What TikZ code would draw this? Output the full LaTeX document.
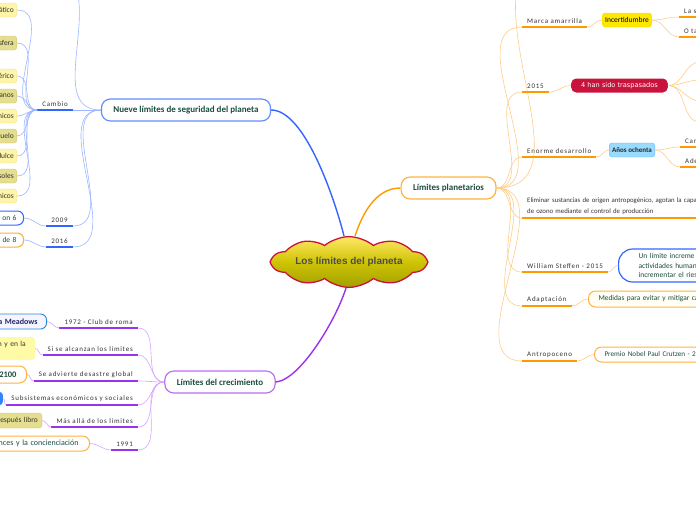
\documentclass[tikz,border=0pt]{standalone}
\usepackage{fontspec}
\setmainfont{Carlito}
\newfontfamily\espaciado[LetterSpace=11]{Carlito}
\newfontfamily\dejavu{DejaVu Sans}
\newfontfamily\arialfont{Liberation Sans}
\usetikzlibrary{shapes.symbols, positioning}

\definecolor{azul}{HTML}{3366FF}
\definecolor{azulsub}{HTML}{9DB5FF}
\definecolor{naranja}{HTML}{FF9900}
\definecolor{naranjasub}{HTML}{FFCC88}
\definecolor{morado}{HTML}{9933EE}
\definecolor{moradosub}{HTML}{D6A3FF}
\definecolor{verdeosc}{HTML}{1B4D3E}
\definecolor{amarclaro}{HTML}{FFF5A8}
\definecolor{amarborde}{HTML}{F3E58A}
\definecolor{oliva}{HTML}{E4DE8E}
\definecolor{olivaborde}{HTML}{CFC66E}
\definecolor{carmesi}{HTML}{C8143C}
\definecolor{gristexto}{HTML}{333333}

\tikzset{
  raiz/.style={cloud, cloud puffs=10, cloud puff arc=80, aspect=4.4, draw=carmesi, line width=1.3pt,
    top color=yellow!70!orange!60!white, bottom color=olive!75!yellow,
    minimum width=154pt, minimum height=34pt, inner sep=1pt,
    font=\arialfont\bfseries\fontsize{10}{12}\selectfont, text=black!70},
  tema/.style={draw, rounded corners=9pt, fill=white, line width=1.2pt,
    font=\bfseries\fontsize{9}{10}\selectfont, text=verdeosc,
    minimum height=22pt, inner xsep=12pt},
  etiq/.style={font=\espaciado\fontsize{7}{8}\selectfont, text=gristexto, inner xsep=5pt, inner ysep=3pt},
  hoja/.style={rounded corners=3pt, font=\fontsize{7.5}{8}\selectfont, text=gristexto,
    minimum height=14pt, inner xsep=3pt, inner ysep=2pt},
  hojaizq/.style={hoja, text width=60pt, align=right, anchor=east},
  hojader/.style={hoja, text width=130pt, align=left, anchor=west},
  azulul/.style={draw=azul, line width=1.3pt},
  naranjaul/.style={draw=naranja, line width=1.3pt},
  moradoul/.style={draw=morado, line width=1.3pt},
  azulc/.style={draw=azulsub, line width=0.6pt},
  naranjac/.style={draw=naranjasub, line width=0.6pt},
  moradoc/.style={draw=moradosub, line width=0.6pt}
}

\begin{document}
\begin{tikzpicture}[x=1pt, y=-1pt]
  \useasboundingbox (0,0) rectangle (696,520);
  \clip (0,0) rectangle (696,520);
  % Nodo central
  \node[raiz] (raiz) at (349,262) {Los límites del planeta};
  % Temas principales
  \node[tema, draw=azul!75] (nueve) at (186,110) {Nueve límites de seguridad del planeta};
  \node[tema, draw=naranja!75] (planet) at (448.5,188) {Límites planetarios};
  \node[tema, draw=morado!70] (crec) at (220,382) {Límites del crecimiento};
  % Ramas principales
  \draw[azul, line width=1.4pt] ([xshift=-5pt]raiz.north) .. controls (335,200) and (305,110) .. (nueve.east);
  \draw[naranja, line width=1.4pt] ([xshift=6pt]raiz.north) .. controls (362,215) and (375,188) .. (planet.west);
  \draw[morado, line width=1.4pt] ([xshift=-3pt]raiz.south) .. controls (336,320) and (300,380) .. (crec.east);

  % Rama azul
  \node[etiq, anchor=south east] (cambio) at (73,110) {Cambio};
  \node[etiq, anchor=south east] (a2009) at (73,226) {2009};
  \node[etiq, anchor=south east] (a2016) at (73,247) {2016};
  \coordinate (arriba1) at (78,-5);
  \foreach \n in {cambio, a2009, a2016}
    \draw[azulul] (\n.south west) -- (\n.south east);
  \draw[azulc] (nueve.west) -- (cambio.south east);
  \draw[azulc] (nueve.west) to[out=180, in=0] (a2009.south east);
  \draw[azulc] (nueve.west) to[out=180, in=0] (a2016.south east);
  \draw[azulc] (nueve.west) to[out=180, in=-80] (arriba1);
  % hojas de Cambio
  \node[hojaizq, fill=amarclaro, draw=amarborde] (h1) at (17,10) {ático};
  \node[hojaizq, fill=oliva, draw=olivaborde] (h2) at (17,43) {sfera};
  \node[hojaizq, fill=amarclaro, draw=amarborde] (h3) at (17,76) {érico};
  \node[hojaizq, fill=oliva, draw=olivaborde] (h4) at (17,96) {anos};
  \node[hojaizq, fill=amarclaro, draw=amarborde] (h5) at (17,116) {nicos};
  \node[hojaizq, fill=oliva, draw=olivaborde] (h6) at (17,136) {uelo};
  \node[hojaizq, fill=amarclaro, draw=amarborde] (h7) at (17,156) {dulce};
  \node[hojaizq, fill=oliva, draw=olivaborde] (h8) at (17,176) {soles};
  \node[hojaizq, fill=amarclaro, draw=amarborde] (h9) at (17,196) {nicos};
  \foreach \i in {1,...,9}
    \draw[azulc] (cambio.south west) to[out=180, in=0] (h\i.east);
  \node[hojaizq, fill=white, draw=azul, line width=1pt, rounded corners=6pt, inner xsep=7pt,
    font=\fontsize{7.5}{8}\selectfont, text=verdeosc] (h2009) at (24,218) {on 6};
  \node[hojaizq, fill=white, draw=naranja!80, line width=1pt, rounded corners=6pt, inner xsep=7pt,
    font=\fontsize{7.5}{8}\selectfont, text=verdeosc] (h2016) at (24,240) {de 8};
  \draw[azulc] (a2009.south west) to[out=180, in=0] (h2009.east);
  \draw[azulc] (a2016.south west) to[out=180, in=0] (h2016.east);

  % Rama morada
  \node[etiq, anchor=south east] (m1) at (138,328) {1972 - Club de roma};
  \node[etiq, anchor=south east] (m2) at (138,355) {Si se alcanzan los límites};
  \node[etiq, anchor=south east] (m3) at (138,381) {Se advierte desastre global};
  \node[etiq, anchor=south east] (m4) at (138,405) {Subsistemas económicos y sociales};
  \node[etiq, anchor=south east] (m5) at (138,427) {Más allá de los límites};
  \node[etiq, anchor=south east] (m6) at (138,450) {1991};
  \foreach \i in {1,...,6} {
    \draw[moradoul] (m\i.south west) -- (m\i.south east);
    \draw[moradoc] (crec.west) to[out=180, in=0] (m\i.south east);
  }
  \node[hojaizq, fill=blue!4, draw=blue!45!cyan!70!gray, line width=0.9pt, rounded corners=6pt,
    minimum height=15pt, inner xsep=9pt, font=\bfseries\fontsize{8}{8}\selectfont, text=blue!30!black!85] (meadows) at (47,321.5) {a Meadows};
  \node[hojaizq, fill=yellow!35, minimum height=23pt, inner xsep=9pt,
    font=\fontsize{7.5}{9.5}\selectfont] (nyen) at (35,348.5) {n y en la\\\mbox{}};
  \node[hojaizq, fill=white, draw=naranja!75, line width=1pt, rounded corners=7pt, minimum height=17pt,
    inner xsep=10pt, font=\bfseries\fontsize{8.5}{9}\selectfont, text=verdeosc] (a2100) at (27,374.5) {2100};
  \node[hojaizq, fill=blue!60!cyan!80, minimum height=13pt] (azulcaja) at (3,398.5) {};
  \node[hojaizq, fill=oliva, draw=olivaborde, minimum height=15pt, inner xsep=4pt,
    font=\fontsize{7.5}{8}\selectfont] (libro) at (42,420.5) {después libro};
  \node[hojaizq, text width=120pt, fill=white, draw=naranja!75, line width=1pt, rounded corners=7pt, minimum height=15pt,
    inner xsep=11pt, font=\fontsize{8}{8}\selectfont, text=verdeosc] (concien) at (90,443.5) {nces y la concienciación};
  \draw[moradoc] (m1.south west) to[out=180, in=0] (meadows.east);
  \draw[moradoc] (m2.south west) to[out=180, in=0] (nyen.east);
  \draw[moradoc] (m3.south west) to[out=180, in=0] (a2100.east);
  \draw[moradoc] (m4.south west) to[out=180, in=0] (azulcaja.east);
  \draw[moradoc] (m5.south west) to[out=180, in=0] (libro.east);
  \draw[moradoc] (m6.south west) to[out=180, in=0] (concien.east);

  % Rama naranja
  \coordinate (arriba2) at (516,-5);
  \node[etiq, anchor=south west] (p1) at (522,27) {Marca amarrilla};
  \node[etiq, anchor=south west] (p2) at (522,92) {2015};
  \node[etiq, anchor=south west] (p3) at (522,157) {Enorme desarrollo};
  \node[etiq, anchor=south west, text width=200pt, align=left, font=\fontsize{6.8}{11}\selectfont] (p4) at (522,218)
    {Eliminar sustancias de origen antropogénico, agotan la capa\\de ozono mediante el control de producción};
  \node[etiq, anchor=south west] (p5) at (522,272) {William Steffen - 2015};
  \node[etiq, anchor=south west] (p6) at (522,306) {Adaptación};
  \node[etiq, anchor=south west] (p7) at (522,361) {Antropoceno};
  \draw[naranjac] (planet.east) to[out=0, in=-95] (arriba2);
  \foreach \i in {1,...,7} {
    \draw[naranjaul] (p\i.south west) -- (p\i.south east);
    \draw[naranjac] (planet.east) to[out=0, in=180] (p\i.south west);
  }
  % Incertidumbre
  \node[hoja, anchor=west, fill=yellow!90!orange, draw=yellow!80!orange, text=black] (incert) at (602,20) {Incertidumbre};
  \node[etiq, anchor=south west, text width=30pt] (ls) at (679,17) {La s};
  \node[etiq, anchor=south west, text width=30pt] (ota) at (679,37) {O ta};
  \draw[naranjac] (p1.south east) to[out=0, in=180] (incert.west);
  \foreach \n in {ls, ota} {
    \draw[naranjaul] (\n.south west) -- (\n.south east);
    \draw[naranjac] (incert.east) to[out=0, in=180] (\n.south west);
  }
  % 4 han sido traspasados
  \node[hoja, anchor=west, fill=carmesi, rounded corners=5pt, text=white, inner xsep=10pt,
    font=\dejavu\fontsize{6.6}{8}\selectfont] (trasp) at (571,85.5) {4 han sido traspasados};
  \draw[naranjac] (p2.south east) to[out=0, in=180] (trasp.west);
  \foreach \y [count=\k] in {62,80,101,122} {
    \coordinate (borde\k) at (700,\y);
    \draw[naranjac] (trasp.east) to[out=0, in=180] (borde\k);
  }
  % Años ochenta
  \node[hoja, anchor=west, fill=blue!35!cyan!40, draw=blue!50!cyan!60, text=black!85,
    font=\bfseries\fontsize{7}{8}\selectfont] (ochenta) at (609,150) {Años ochenta};
  \node[etiq, anchor=south west, text width=30pt] (cam) at (680,147) {Cam};
  \node[etiq, anchor=south west, text width=30pt] (ade) at (680,167) {Ade};
  \draw[naranjac] (p3.south east) to[out=0, in=180] (ochenta.west);
  \foreach \n in {cam, ade} {
    \draw[naranjaul] (\n.south west) -- (\n.south east);
    \draw[naranjac] (ochenta.east) to[out=0, in=180] (\n.south west);
  }
  % Nodos de la derecha
  \node[hojader, fill=white, draw=azul, line width=1.2pt, rounded corners=14pt, minimum height=33pt,
    inner xsep=20pt, font=\fontsize{7.5}{9.5}\selectfont, text=verdeosc] (steffen) at (618,265.5)
    {\makebox[64pt][s]{Un límite increme}\\\makebox[64pt][s]{actividades human}\\\makebox[64pt][s]{incrementar el ries}};
  \node[hojader, fill=yellow!4, draw=naranja!75, line width=1pt, rounded corners=7pt, minimum height=16pt,
    inner xsep=10pt, font=\fontsize{7.4}{8}\selectfont, text=verdeosc] (medidas) at (588,299) {Medidas para evitar y mitigar ca};
  \node[hojader, fill=white, draw=naranja!75, line width=1pt, rounded corners=7pt, minimum height=15pt,
    inner xsep=10pt, font=\fontsize{7.2}{8}\selectfont, text=verdeosc] (premio) at (594,354.5) {Premio Nobel Paul Crutzen - 20};
  \draw[naranjac] (p5.south east) to[out=0, in=180] (steffen.west);
  \draw[naranjac] (p6.south east) to[out=0, in=180] (medidas.west);
  \draw[naranjac] (p7.south east) to[out=0, in=180] (premio.west);
\end{tikzpicture}
\end{document}
